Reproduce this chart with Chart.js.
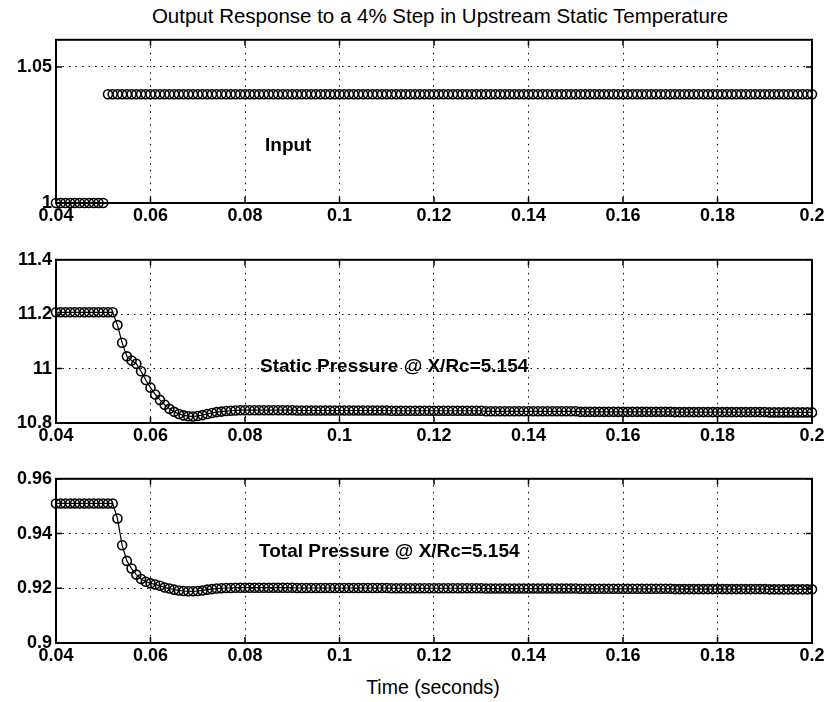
<!DOCTYPE html>
<html>
<head>
<meta charset="utf-8">
<script src="https://cdn.jsdelivr.net/npm/chart.js@4/dist/chart.umd.min.js"></script>
<style>
  html, body { margin: 0; padding: 0; background: #fff; }
  #wrap { position: relative; width: 832px; height: 702px; overflow: hidden; background: #fff; }
  canvas { position: absolute; left: 0; }
  .txt { position: absolute; font-family: "Liberation Sans", Arial, Helvetica, sans-serif; color: #000; white-space: nowrap; }
</style>
</head>
<body>
<div id="wrap">
  <div class="txt" id="title" style="left:0;width:880px;top:4px;text-align:center;font-size:20.5px;">Output Response to a 4% Step in Upstream Static Temperature</div>
  <canvas id="c1" width="832" height="208" style="top:25px"></canvas>
  <canvas id="c2" width="832" height="208" style="top:245px"></canvas>
  <canvas id="c3" width="832" height="209" style="top:464px"></canvas>
  <div class="txt" style="left:265px;top:134px;font-size:19px;font-weight:bold;">Input</div>
  <div class="txt" style="left:260px;top:355px;font-size:19px;font-weight:bold;">Static Pressure @ X/Rc=5.154</div>
  <div class="txt" style="left:259px;top:540px;font-size:19px;font-weight:bold;">Total Pressure @ X/Rc=5.154</div>
  <div class="txt" style="left:0;width:866px;top:676px;text-align:center;font-size:19.5px;">Time (seconds)</div>
</div>
<script>
// ---- data ----
const timeS = [
0.040,0.041,0.042,0.043,0.044,0.045,0.046,0.047,0.048,0.049,
0.050,0.051,0.052,0.053,0.054,0.055,0.056,0.057,0.058,0.059,
0.060,0.061,0.062,0.063,0.064,0.065,0.066,0.067,0.068,0.069,
0.070,0.071,0.072,0.073,0.074,0.075,0.076,0.077,0.078,0.079,
0.080,0.081,0.082,0.083,0.084,0.085,0.086,0.087,0.088,0.089,
0.090,0.091,0.092,0.093,0.094,0.095,0.096,0.097,0.098,0.099,
0.100,0.101,0.102,0.103,0.104,0.105,0.106,0.107,0.108,0.109,
0.110,0.111,0.112,0.113,0.114,0.115,0.116,0.117,0.118,0.119,
0.120,0.121,0.122,0.123,0.124,0.125,0.126,0.127,0.128,0.129,
0.130,0.131,0.132,0.133,0.134,0.135,0.136,0.137,0.138,0.139,
0.140,0.141,0.142,0.143,0.144,0.145,0.146,0.147,0.148,0.149,
0.150,0.151,0.152,0.153,0.154,0.155,0.156,0.157,0.158,0.159,
0.160,0.161,0.162,0.163,0.164,0.165,0.166,0.167,0.168,0.169,
0.170,0.171,0.172,0.173,0.174,0.175,0.176,0.177,0.178,0.179,
0.180,0.181,0.182,0.183,0.184,0.185,0.186,0.187,0.188,0.189,
0.190,0.191,0.192,0.193,0.194,0.195,0.196,0.197,0.198,0.199,
0.200];

const inputVals = [
1,1,1,1,1,1,1,1,1,1,
1,1.04,1.04,1.04,1.04,1.04,1.04,1.04,1.04,1.04,
1.04,1.04,1.04,1.04,1.04,1.04,1.04,1.04,1.04,1.04,
1.04,1.04,1.04,1.04,1.04,1.04,1.04,1.04,1.04,1.04,
1.04,1.04,1.04,1.04,1.04,1.04,1.04,1.04,1.04,1.04,
1.04,1.04,1.04,1.04,1.04,1.04,1.04,1.04,1.04,1.04,
1.04,1.04,1.04,1.04,1.04,1.04,1.04,1.04,1.04,1.04,
1.04,1.04,1.04,1.04,1.04,1.04,1.04,1.04,1.04,1.04,
1.04,1.04,1.04,1.04,1.04,1.04,1.04,1.04,1.04,1.04,
1.04,1.04,1.04,1.04,1.04,1.04,1.04,1.04,1.04,1.04,
1.04,1.04,1.04,1.04,1.04,1.04,1.04,1.04,1.04,1.04,
1.04,1.04,1.04,1.04,1.04,1.04,1.04,1.04,1.04,1.04,
1.04,1.04,1.04,1.04,1.04,1.04,1.04,1.04,1.04,1.04,
1.04,1.04,1.04,1.04,1.04,1.04,1.04,1.04,1.04,1.04,
1.04,1.04,1.04,1.04,1.04,1.04,1.04,1.04,1.04,1.04,
1.04,1.04,1.04,1.04,1.04,1.04,1.04,1.04,1.04,1.04,
1.04];

const staticP = [
11.207,11.207,11.207,11.207,11.207,11.207,11.207,11.207,11.207,11.207,
11.207,11.207,11.207,11.160,11.095,11.045,11.030,11.018,10.990,10.958,
10.930,10.905,10.885,10.867,10.852,10.841,10.833,10.828,10.825,10.824,
10.826,10.829,10.833,10.837,10.840,10.842,10.844,10.845,10.846,10.847,
10.847,10.847,10.847,10.847,10.847,10.847,10.847,10.847,10.847,10.847,
10.847,10.846,10.846,10.846,10.846,10.846,10.846,10.846,10.846,10.846,
10.846,10.846,10.846,10.846,10.846,10.846,10.846,10.846,10.846,10.846,
10.846,10.845,10.845,10.845,10.845,10.845,10.845,10.845,10.845,10.845,
10.845,10.845,10.845,10.845,10.845,10.845,10.845,10.845,10.845,10.845,
10.845,10.843,10.843,10.843,10.843,10.843,10.843,10.843,10.843,10.843,
10.843,10.843,10.843,10.843,10.843,10.843,10.843,10.843,10.843,10.843,
10.843,10.841,10.841,10.841,10.841,10.841,10.841,10.841,10.841,10.841,
10.841,10.841,10.841,10.841,10.841,10.841,10.841,10.841,10.841,10.841,
10.841,10.840,10.840,10.840,10.840,10.840,10.840,10.840,10.840,10.840,
10.840,10.840,10.840,10.840,10.840,10.840,10.840,10.840,10.840,10.840,
10.840,10.839,10.839,10.839,10.839,10.839,10.839,10.839,10.839,10.839,
10.839];

const totalP = [
0.9510,0.9510,0.9510,0.9510,0.9510,0.9510,0.9510,0.9510,0.9510,0.9510,
0.9510,0.9510,0.9510,0.9455,0.9357,0.9300,0.9272,0.9250,0.9234,0.9224,
0.9218,0.9214,0.9209,0.9203,0.9199,0.9195,0.9192,0.9190,0.9189,0.9189,
0.9190,0.9192,0.9195,0.9197,0.9199,0.9200,0.9201,0.9201,0.9202,0.9202,
0.9202,0.9202,0.9202,0.9202,0.9202,0.9202,0.9202,0.9202,0.9202,0.9202,
0.9202,0.9201,0.9201,0.9201,0.9201,0.9201,0.9201,0.9201,0.9201,0.9201,
0.9201,0.9201,0.9201,0.9201,0.9201,0.9201,0.9201,0.9201,0.9201,0.9201,
0.9201,0.9200,0.9200,0.9200,0.9200,0.9200,0.9200,0.9200,0.9200,0.9200,
0.9200,0.9200,0.9200,0.9200,0.9200,0.9200,0.9200,0.9200,0.9200,0.9200,
0.9200,0.9199,0.9199,0.9199,0.9199,0.9199,0.9199,0.9199,0.9199,0.9199,
0.9199,0.9199,0.9199,0.9199,0.9199,0.9199,0.9199,0.9199,0.9199,0.9199,
0.9199,0.9198,0.9198,0.9198,0.9198,0.9198,0.9198,0.9198,0.9198,0.9198,
0.9198,0.9198,0.9198,0.9198,0.9198,0.9198,0.9198,0.9198,0.9198,0.9198,
0.9198,0.9197,0.9197,0.9197,0.9197,0.9197,0.9197,0.9197,0.9197,0.9197,
0.9197,0.9197,0.9197,0.9197,0.9197,0.9197,0.9197,0.9197,0.9197,0.9197,
0.9197,0.9196,0.9196,0.9196,0.9196,0.9196,0.9196,0.9196,0.9196,0.9196,
0.9196];

const xTicks = [0.04, 0.06, 0.08, 0.1, 0.12, 0.14, 0.16, 0.18, 0.2];
const xTickLabels = ['0.04','0.06','0.08','0.1','0.12','0.14','0.16','0.18','0.2'];
const inputTicks = [1, 1.05];
const inputTickLabels = ['1', '1.05'];
const staticTicks = [10.8, 11, 11.2, 11.4];
const staticTickLabels = ['10.8', '11', '11.2', '11.4'];
const totalTicks = [0.9, 0.92, 0.94, 0.96];
const totalTickLabels = ['0.9', '0.92', '0.94', '0.96'];

// ---- drawing ----
const tickFont = { family: '"Liberation Sans", Arial, Helvetica, sans-serif', size: 18, weight: 'bold' };

const boxPlugin = {
  id: 'matlabBox',
  afterDatasetsDraw(chart) {
    const ctx = chart.ctx, a = chart.chartArea;
    const xs = chart.scales.x, ys = chart.scales.y;
    ctx.save();
    ctx.strokeStyle = '#000';
    ctx.lineWidth = 2;
    ctx.setLineDash([]);
    ctx.strokeRect(a.left, a.top, a.right - a.left, a.bottom - a.top);
    ctx.lineWidth = 1.5;
    const L = 6;
    ctx.beginPath();
    xs.ticks.forEach(t => {
      const px = xs.getPixelForValue(t.value);
      ctx.moveTo(px, a.bottom); ctx.lineTo(px, a.bottom - L);
      ctx.moveTo(px, a.top); ctx.lineTo(px, a.top + L);
    });
    ys.ticks.forEach(t => {
      const py = ys.getPixelForValue(t.value);
      ctx.moveTo(a.left, py); ctx.lineTo(a.left + L, py);
      ctx.moveTo(a.right, py); ctx.lineTo(a.right - L, py);
    });
    ctx.stroke();
    ctx.restore();
  }
};

function makePanel(id, yVals, yMin, yMax, yTicks, yLabels, showLine, padTop) {
  const pts = timeS.map((t, i) => ({ x: t, y: yVals[i] }));
  return new Chart(document.getElementById(id), {
    type: 'scatter',
    data: {
      datasets: [{
        data: pts,
        showLine: showLine,
        borderColor: '#000',
        borderWidth: 1.2,
        pointStyle: 'circle',
        pointRadius: 4.5,
        pointBorderWidth: 1.6,
        pointBorderColor: '#000',
        pointBackgroundColor: 'rgba(0,0,0,0)',
        clip: false
      }]
    },
    options: {
      responsive: false,
      devicePixelRatio: 1,
      animation: false,
      events: [],
      layout: { padding: { left: 0, right: 20, top: padTop, bottom: 0 } },
      plugins: { legend: { display: false }, tooltip: { enabled: false }, title: { display: false } },
      scales: {
        x: {
          type: 'linear', min: 0.04, max: 0.2,
          afterBuildTicks: s => { s.ticks = xTicks.map(v => ({ value: v })); },
          afterFit: s => { s.height = 30; },
          ticks: { color: '#000', font: tickFont, padding: 2, maxRotation: 0, autoSkip: false,
                   callback: (v, i) => xTickLabels[i] },
          grid: { color: '#000', lineWidth: 1, drawTicks: false },
          border: { display: false, dash: [1.5, 5] }
        },
        y: {
          type: 'linear', min: yMin, max: yMax,
          afterBuildTicks: s => { s.ticks = yTicks.map(v => ({ value: v })); },
          afterFit: s => { s.width = 56; },
          ticks: { color: '#000', font: tickFont, padding: 4, autoSkip: false,
                   callback: (v, i) => yLabels[i] },
          grid: { color: '#000', lineWidth: 1, drawTicks: false },
          border: { display: false, dash: [1.5, 5] }
        }
      }
    },
    plugins: [boxPlugin]
  });
}

makePanel('c1', inputVals, 1, 1.06, inputTicks, inputTickLabels, false, 10);
makePanel('c2', staticP, 10.8, 11.4, staticTicks, staticTickLabels, true, 10);
makePanel('c3', totalP, 0.9, 0.96, totalTicks, totalTickLabels, true, 10);
</script>
</body>
</html>
